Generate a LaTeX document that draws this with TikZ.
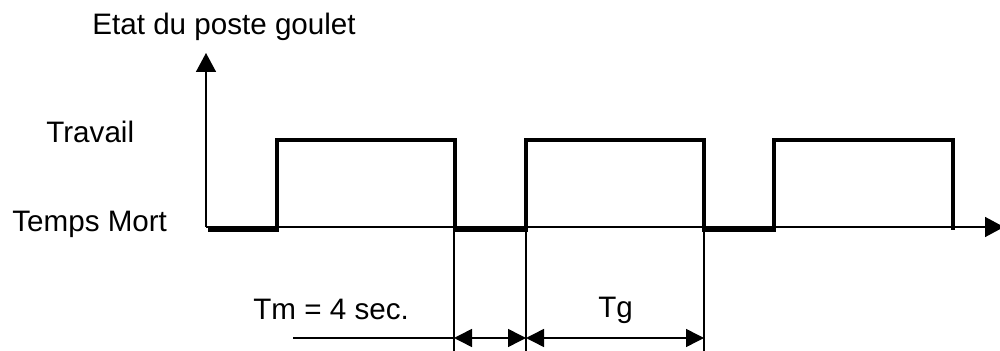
\documentclass[tikz,border=0pt]{standalone}
\usepackage{fontspec}
\setmainfont{Liberation Sans}
\usetikzlibrary{arrows.meta}
\begin{document}
\begin{tikzpicture}[x=0.5pt,y=-0.5pt,
  lbl/.style={inner sep=0pt,anchor=base west,font=\fontsize{14.8pt}{17pt}\selectfont},
  thinline/.style={line width=0.75pt},
  wave/.style={line width=1.6pt,line join=miter},
  tip/.style={-{Triangle[length=9.5pt,width=10pt]}},
  dim/.style={thinline,{Triangle[length=9pt,width=9pt]}-{Triangle[length=9pt,width=9pt]}}]
\useasboundingbox (0,0) rectangle (1000,351);
% axes
\coordinate (O) at (206,227);
\coordinate (Ytop) at (206,53);
\coordinate (Xend) at (1004,227);
\draw[thinline,tip] (O) -- (Ytop);
\draw[thinline,tip] (O) -- (Xend);
% labels
\node[lbl] (etat) at (92,35) {Etat du poste goulet};
\node[lbl] (trav) at (46,143) {Travail};
\node[lbl] (tmort) at (12,232) {Temps Mort};
% wave
\draw[wave] (208,230) -- (277,230) -- (277,140) -- (455,140) -- (455,230)
  -- (526,230) -- (526,140) -- (704,140) -- (704,230) -- (774,230)
  -- (774,140) -- (953,140) -- (953,230);
% dimension guides
\coordinate (a1) at (454,227); \coordinate (a2) at (454,351);
\coordinate (b1) at (526,227); \coordinate (b2) at (526,351);
\coordinate (c1) at (704,227); \coordinate (c2) at (704,351);
\draw[thinline] (a1) -- (a2);
\draw[thinline] (b1) -- (b2);
\draw[thinline] (c1) -- (c2);
\coordinate (da) at (454,338);
\coordinate (db) at (526,338);
\coordinate (dc) at (704,338);
\coordinate (tmstart) at (293,338);
\draw[thinline] (tmstart) -- (da);
\draw[dim] (da) -- (db);
\draw[dim] (db) -- (dc);
\node[lbl] (tm) at (253,320) {Tm = 4 sec.};
\node[lbl] (tg) at (598,318) {Tg};
\end{tikzpicture}
\end{document}
